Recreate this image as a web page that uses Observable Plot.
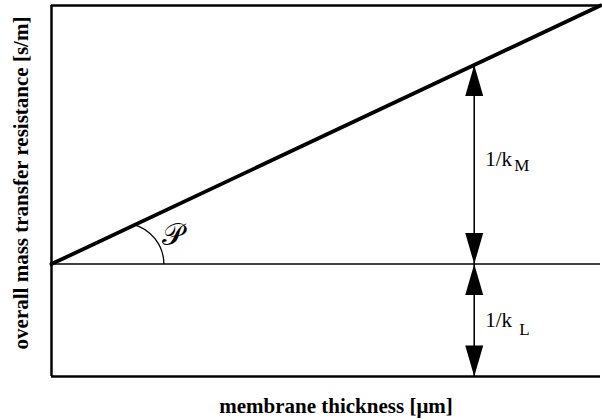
<!DOCTYPE html>
<html>
<head>
<meta charset="utf-8">
<script src="https://cdn.jsdelivr.net/npm/d3@7"></script>
<script src="https://cdn.jsdelivr.net/npm/@observablehq/plot@0.6"></script>
<style>
  body { margin: 0; background: #fff; }
</style>
</head>
<body>
<div id="chart"></div>
<script>
// Resistance-in-series model: overall resistance = 1/kL + membrane contribution.
const thicknessDomain = [0, 100];      // membrane thickness (relative units)
const resistanceDomain = [0, 3.3];     // overall resistance (relative units)
const invKL = 1.0;                     // liquid-film resistance (intercept)
const lineThickness = [0, 100];
const lineResistance = [1.0, 3.3];
const markThickness = 77;              // thickness where 1/kM is shown
const invKM = 1.771;                   // membrane resistance at markThickness
const angleCenter = [{t: 13, r: 1.0}]; // where the slope angle is marked
const angleSymbol = "𝒫";
const labelKM = ["1/k", "M"];
const labelKL = ["1/k", "L"];
const xLabel = "membrane thickness [μm]";
const yLabel = "overall mass transfer resistance [s/m]";

const line = lineThickness.map((t, i) => ({t, r: lineResistance[i]}));
const upperArrow = {t: markThickness, r1: invKL, r2: invKL + invKM};
const lowerArrow = {t: markThickness, r1: 0, r2: invKL};

// Filled, elongated arrowheads with their tip at the anchor point.
const headUp = {draw(ctx) { ctx.moveTo(0, 0); ctx.lineTo(9, 31); ctx.lineTo(-9, 31); ctx.closePath(); }};
const headDown = {draw(ctx) { ctx.moveTo(0, 0); ctx.lineTo(9, -31); ctx.lineTo(-9, -31); ctx.closePath(); }};
// Angle arc between the horizontal and the sloped line.
const arcStart = -1.33;
const arcShape = {draw(ctx) {
  ctx.moveTo(41 * Math.cos(arcStart), 41 * Math.sin(arcStart));
  ctx.arc(0, 0, 41, arcStart, 0);
}};

const serif = "'Liberation Serif', 'Times New Roman', serif";

const chart = Plot.plot({
  width: 602,
  height: 420,
  marginLeft: 51,
  marginRight: 2,
  marginTop: 5,
  marginBottom: 44,
  style: {background: "#fff", color: "#000"},
  x: {domain: thicknessDomain, axis: null},
  y: {domain: resistanceDomain, axis: null},
  marks: [
    // frame (top, bottom, left)
    Plot.ruleY([resistanceDomain[1]], {stroke: "#000", strokeWidth: 2.5}),
    Plot.ruleY([resistanceDomain[0]], {stroke: "#000", strokeWidth: 2.5}),
    Plot.ruleX([thicknessDomain[0]], {stroke: "#000", strokeWidth: 2.5}),
    // intercept level 1/kL
    Plot.ruleY([invKL], {stroke: "#000", strokeWidth: 1.5}),
    // overall resistance vs thickness
    Plot.line(line, {x: "t", y: "r", stroke: "#000", strokeWidth: 3.8}),
    // double arrows
    Plot.ruleX([upperArrow, lowerArrow], {x: "t", y1: "r1", y2: "r2", stroke: "#000", strokeWidth: 1.6}),
    Plot.dot([upperArrow, lowerArrow], {x: "t", y: "r2", symbol: headUp, fill: "#000", stroke: "none"}),
    Plot.dot([upperArrow, lowerArrow], {x: "t", y: "r1", symbol: headDown, fill: "#000", stroke: "none"}),
    // slope angle
    Plot.dot(angleCenter, {x: "t", y: "r", symbol: arcShape, fill: "none", stroke: "#000", strokeWidth: 1.3}),
    Plot.text(angleCenter, {x: "t", y: "r", text: () => angleSymbol, dx: 50, dy: -29,
      fontSize: 30, fontFamily: "'DejaVu Serif', serif", fill: "#000"}),
    // 1/kM label
    Plot.text([upperArrow], {x: "t", y: d => (d.r1 + d.r2) / 2, text: () => labelKM[0], dx: 11, dy: 1,
      textAnchor: "start", lineAnchor: "bottom", fontSize: 21, fontFamily: serif, fill: "#000"}),
    Plot.text([upperArrow], {x: "t", y: d => (d.r1 + d.r2) / 2, text: () => labelKM[1], dx: 40, dy: 6,
      textAnchor: "start", lineAnchor: "bottom", fontSize: 17, fontFamily: serif, fill: "#000"}),
    // 1/kL label
    Plot.text([lowerArrow], {x: "t", y: d => (d.r1 + d.r2) / 2, text: () => labelKL[0], dx: 11, dy: 7,
      textAnchor: "start", lineAnchor: "bottom", fontSize: 21, fontFamily: serif, fill: "#000"}),
    Plot.text([lowerArrow], {x: "t", y: d => (d.r1 + d.r2) / 2, text: () => labelKL[1], dx: 45, dy: 15,
      textAnchor: "start", lineAnchor: "bottom", fontSize: 17, fontFamily: serif, fill: "#000"}),
    // axis titles
    Plot.text([xLabel], {frameAnchor: "bottom", text: d => d, dx: 10, dy: 36, textAnchor: "middle", lineAnchor: "bottom",
      fontSize: 21, fontWeight: "bold", fontFamily: serif, fill: "#000"}),
    Plot.text([yLabel], {frameAnchor: "left", text: d => d, rotate: -90, dx: -24, dy: -8, textAnchor: "middle", lineAnchor: "bottom",
      fontSize: 21, fontWeight: "bold", fontFamily: serif, fill: "#000"})
  ]
});

document.getElementById("chart").append(chart);
</script>
</body>
</html>
